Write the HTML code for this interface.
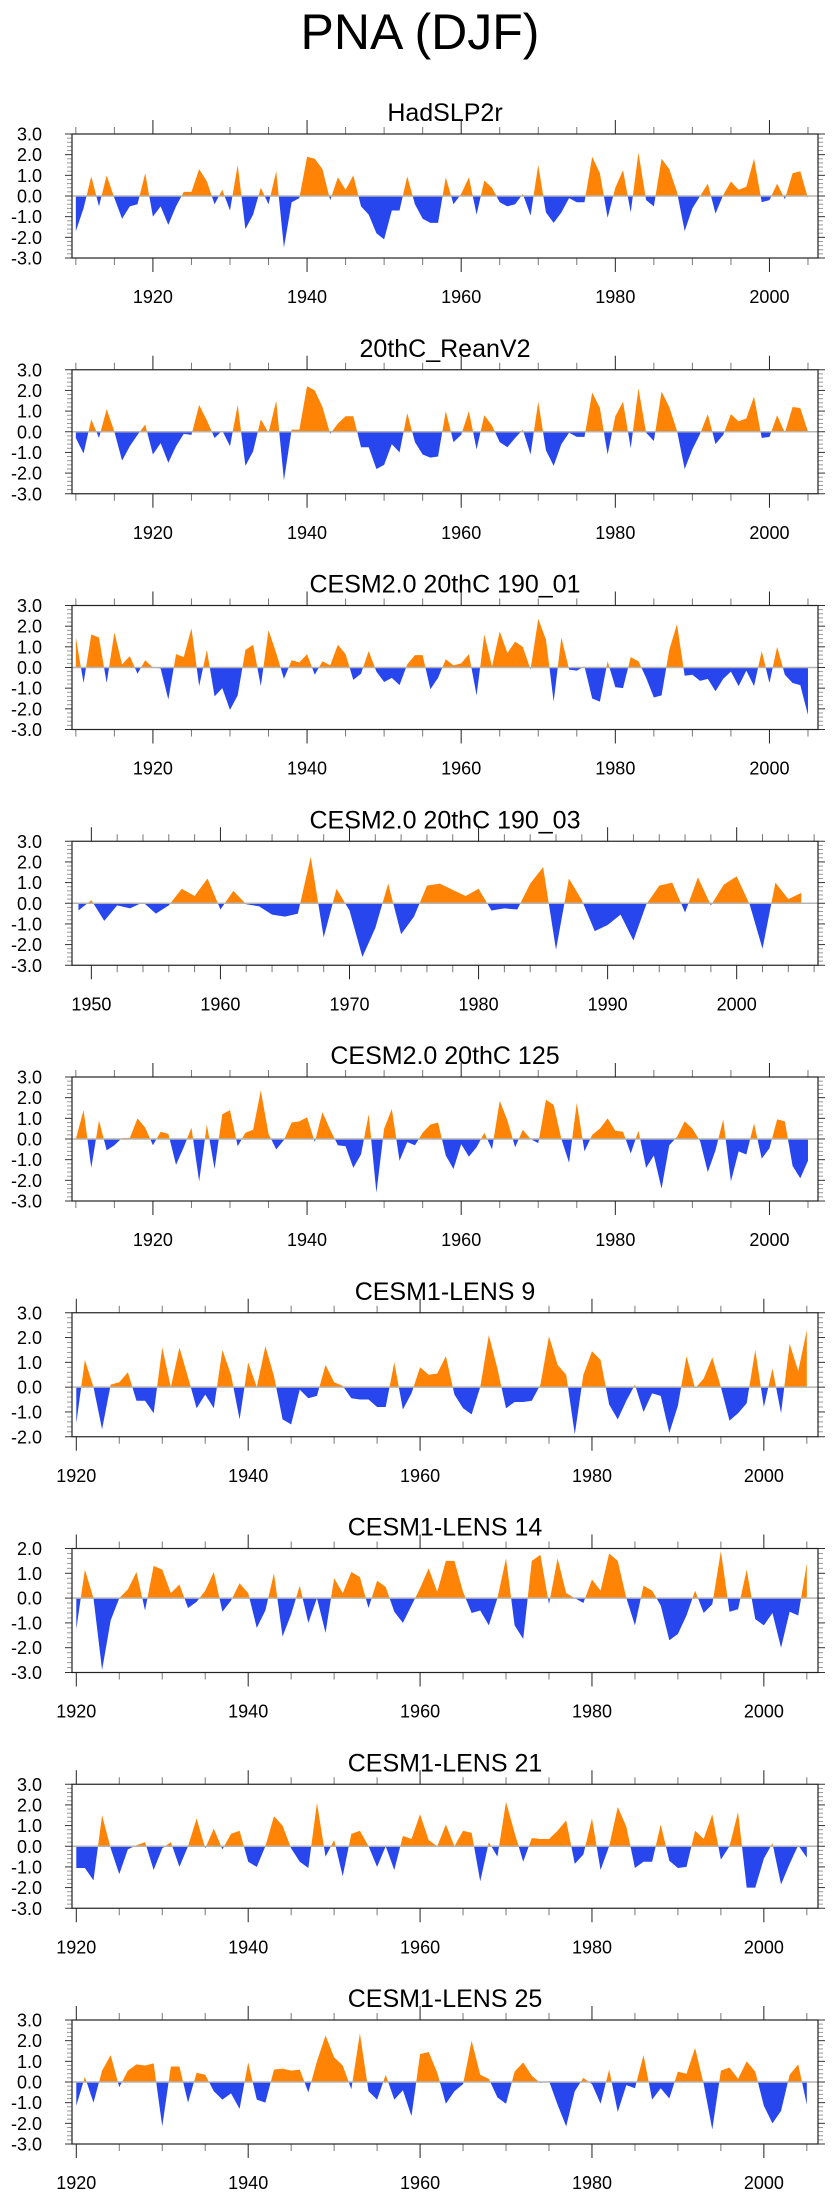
<!DOCTYPE html>
<html><head><meta charset="utf-8"><style>
body{margin:0;background:#fff;}
svg{display:block;font-family:"Liberation Sans",sans-serif;}
</style></head><body>
<svg id="chart" width="840" height="2200" viewBox="0 0 840 2200" xmlns="http://www.w3.org/2000/svg">
<rect width="840" height="2200" fill="#fff"/>
<text x="420" y="49" font-size="50" text-anchor="middle">PNA (DJF)</text>
</svg>
<script>
const titles = ["HadSLP2r","20thC_ReanV2","CESM2.0 20thC 190_01","CESM2.0 20thC 190_03","CESM2.0 20thC 125","CESM1-LENS 9","CESM1-LENS 14","CESM1-LENS 21","CESM1-LENS 25"];
const startYears = [1910,1910,1910,1949,1910,1920,1920,1920,1920];
const yMins = [-3,-3,-3,-3,-3,-2,-3,-3,-3];
const yMaxs = [3,3,3,3,3,3,2,3,3];
const s1 = [-1.7,-0.6,0.95,-0.5,1.0,-0.1,-1.1,-0.5,-0.4,1.1,-1.0,-0.5,-1.4,-0.5,0.2,0.2,1.3,0.7,-0.4,0.3,-0.7,1.5,-1.6,-0.9,0.4,-0.4,1.2,-2.5,-0.3,-0.1,1.9,1.8,1.3,-0.2,0.9,0.3,1.0,-0.5,-0.9,-1.8,-2.1,-0.7,-0.7,0.95,-0.4,-1.1,-1.3,-1.3,0.9,-0.4,0.1,0.9,-0.9,0.75,0.4,-0.3,-0.5,-0.4,0.1,-0.95,1.5,-0.8,-1.3,-0.8,-0.1,-0.3,-0.3,1.9,1.1,-1.05,0.4,1.25,-0.8,2.1,-0.2,-0.5,1.8,1.3,0.2,-1.7,-0.6,0,0.6,-0.85,0.05,0.7,0.3,0.45,1.8,-0.3,-0.2,0.6,-0.15,1.1,1.2,-0.1];
const s2 = [-0.3,-1.05,0.6,-0.3,1.1,0,-1.4,-0.7,-0.15,0.35,-1.1,-0.55,-1.5,-0.7,-0.1,-0.15,1.3,0.55,-0.3,0.05,-0.7,1.3,-1.65,-0.95,0.6,-0.05,1.5,-2.35,0.1,0.1,2.2,2.0,1.2,-0.1,0.4,0.75,0.75,-0.75,-0.75,-1.8,-1.6,-0.6,-1.0,0.9,-0.5,-1.1,-1.25,-1.2,1.0,-0.5,-0.15,1.0,-0.85,0.8,0.3,-0.5,-0.75,-0.3,0.1,-1.1,1.45,-0.9,-1.65,-0.6,-0.05,-0.25,-0.25,1.9,1.15,-1.1,0.75,1.45,-0.8,2.1,-0.05,-0.45,1.95,1.2,0.05,-1.8,-0.85,-0.1,0.85,-0.6,-0.15,0.85,0.5,0.65,1.7,-0.3,-0.25,0.8,-0.05,1.2,1.15,0];
const s3 = [1.45,-0.75,1.6,1.45,-0.75,1.7,0.15,0.55,-0.3,0.35,0,-0.05,-1.55,0.65,0.5,1.9,-0.9,0.85,-1.4,-1.0,-2.05,-1.35,0.85,1.1,-0.9,1.8,0.7,-0.55,0.35,0.25,0.65,-0.35,0.3,0.1,1.1,0.65,-0.6,-0.3,0.8,-0.2,-0.7,-0.5,-0.85,0.15,0.6,0.6,-1.05,-0.5,0.4,0.1,0.2,0.65,-1.35,1.6,0.05,1.75,0.7,1.25,1.0,-0.1,2.35,1.35,-1.65,1.45,-0.1,-0.15,0.05,-1.5,-1.65,0.3,-0.95,-1.0,0.5,0.3,-0.5,-1.45,-1.35,0.85,2.1,-0.4,-0.35,-0.65,-0.55,-1.15,-0.55,-0.2,-0.9,-0.15,-0.9,0.8,-0.75,1.0,-0.35,-0.75,-0.85,-2.3];
const s4 = [-0.35,0.15,-0.85,-0.1,-0.25,0.05,-0.5,-0.1,0.7,0.35,1.2,-0.3,0.6,-0.05,-0.15,-0.55,-0.65,-0.5,2.25,-1.65,0.7,-0.35,-2.6,-1.2,0.95,-1.5,-0.65,0.85,0.95,0.65,0.35,0.7,-0.35,-0.25,-0.3,0.95,1.75,-2.25,1.2,0.15,-1.35,-1.05,-0.55,-1.8,-0.05,0.85,1.0,-0.45,1.25,-0.1,0.9,1.3,-0.05,-2.2,1.0,0.2,0.5];
const s5 = [0,1.4,-1.4,0.9,-0.55,-0.3,0.05,0.05,1.0,0.55,-0.3,0.35,0.25,-1.25,-0.4,0.55,-2.05,0.7,-1.45,1.2,1.4,-0.35,0.3,0.45,2.35,0.25,-0.5,-0.05,0.8,0.85,1.05,-0.15,1.3,0.45,-0.3,-0.35,-1.4,-0.75,1.2,-2.6,0.5,1.45,-1.05,-0.15,-0.3,0.3,0.7,0.8,-0.8,-1.45,-0.25,-0.85,-0.4,0.3,-0.5,1.85,0.9,-0.4,0.45,0,-0.2,1.9,1.65,0,-1.15,1.75,-0.6,0.2,0.5,1.0,0.4,0.35,-0.7,0.4,-1.4,-0.8,-2.4,-0.3,0.1,0.85,0.5,-0.1,-1.6,-0.55,0.95,-2.05,-0.6,-0.75,0.75,-0.95,-0.45,0.95,0.85,-1.3,-1.9,-1.05];
const s6 = [-1.45,1.1,0,-1.7,0.1,0.2,0.6,-0.55,-0.55,-1.05,1.6,0,1.6,0.4,-0.85,-0.3,-0.85,1.5,0.5,-1.3,1.0,0,1.65,0.45,-1.3,-1.5,-0.1,-0.45,-0.35,0.9,0.2,0.05,-0.45,-0.5,-0.5,-0.8,-0.8,1.0,-0.9,-0.25,0.8,0.5,0.55,1.25,-0.3,-0.85,-1.1,0,2.1,0.75,-0.85,-0.6,-0.6,-0.55,0.1,2.05,0.9,0.5,-1.9,0.5,1.45,1.1,-0.7,-1.3,-0.55,0.1,-1.0,-0.25,-0.35,-1.85,-0.75,1.25,-0.05,0.35,1.2,0,-1.35,-1.05,-0.65,1.5,-0.8,0.75,-1.05,1.75,0.65,2.3];
const s7 = [-1.25,1.15,0,-2.9,-0.9,0,0.35,1.05,-0.5,1.3,1.15,0.2,0.55,-0.4,-0.15,0.3,1.05,-0.55,-0.1,0.6,0.2,-1.2,-0.5,1.0,-1.55,-0.65,0.5,-1.0,0,-1.4,0.8,0.2,1.05,0.85,-0.4,0.7,0.45,-0.55,-1.0,-0.3,0.4,1.2,0.25,1.5,1.5,0.25,-0.6,-0.5,-1.1,0,1.6,-1.1,-1.65,1.5,1.75,-0.25,1.6,0.2,0,-0.2,0.75,0.3,1.8,1.5,0,-1.1,0.5,0.3,-0.3,-1.7,-1.45,-0.7,0.3,-0.6,-0.25,1.9,-0.55,-0.45,1.15,-0.85,-1.1,-0.6,-2.0,-0.55,-0.7,1.4];
const s8 = [-1.05,-1.05,-1.65,1.5,-0.1,-1.35,-0.15,0.05,0.2,-1.15,-0.1,0.2,-1.0,0,1.35,-0.1,0.85,-0.15,0.6,0.75,-0.75,-1.0,0,1.45,1.0,-0.1,-0.75,-1.05,2.1,-0.5,0.3,-1.45,0.6,0.75,0,-1.0,0,-1.15,0.5,0.35,1.55,0.3,0,1.05,0,0.75,0.65,-1.7,0.2,-0.5,2.15,0.65,-0.75,0.4,0.35,0.35,0.75,1.25,-0.85,-0.4,1.35,-1.15,0,1.9,0.95,-1.05,-0.75,-0.75,1.05,-0.7,-1.05,-1.0,0.75,0.35,1.55,-0.65,0,1.65,-2.0,-2.0,-0.6,0.15,-1.85,-0.85,0.05,-0.55];
const s9 = [-1.15,0.25,-1.0,0.55,1.3,-0.25,0.55,0.85,0.8,0.9,-2.15,0.75,0.75,-1.0,0.45,0.35,-0.45,-0.85,-0.55,-1.3,0.95,-0.85,-1.0,0.6,0.65,0.55,0.6,-0.5,1.0,2.25,1.2,0.8,-0.35,2.35,-0.45,-0.85,0.35,-0.85,-0.4,-1.65,1.35,1.45,0.45,-1.05,-0.45,-0.1,2.0,0.35,0.15,-0.75,-1.05,0.5,0.95,0.3,-0.05,0.05,-1.1,-2.15,-0.45,0.2,-0.1,-1.05,0.6,-1.45,-0.15,-0.3,1.3,-0.85,-0.3,-0.8,0.5,0.4,1.65,-0.1,-2.3,0.55,0.7,0.15,1.0,0.5,-1.15,-2.0,-1.4,0.35,0.85,-1.1];
const series = [s1,s2,s3,s4,s5,s6,s7,s8,s9];

const NS = "http://www.w3.org/2000/svg";
const svg = document.getElementById('chart');
function mk(tag, attrs, parent){const e=document.createElementNS(NS,tag);for(const k in attrs)e.setAttribute(k,attrs[k]);(parent||svg).appendChild(e);return e;}
const L=72, R=818, H=124, XMAX=2006.3;
for(let p=0;p<9;p++){
  const top=134+235.75*p, bot=top+H;
  const x0=startYears[p]-0.5;
  const xs=y=>L+(y-x0)/(XMAX-x0)*(R-L);
  const ys=v=>top+(yMaxs[p]-v)/(yMaxs[p]-yMins[p])*H;
  const g=mk('g',{});
  
  
  const t=mk('text',{x:445,y:top-13,'font-size':25,'text-anchor':'middle'},g);
  
  
  t.textContent=titles[p];
  const cid='c'+p;
  const defs=mk('defs',{},g);
  const z=ys(0);
  const ca=mk('clipPath',{id:cid+'a'},defs); mk('rect',{x:L,y:top,width:R-L,height:z-top},ca);
  const cb=mk('clipPath',{id:cid+'b'},defs); mk('rect',{x:L,y:z,width:R-L,height:bot-z},cb);
  const d=series[p];
  let pts=xs(startYears[p]).toFixed(2)+','+z.toFixed(2)+' ';
  d.forEach((v,i)=>{pts+=xs(startYears[p]+i).toFixed(2)+','+ys(v).toFixed(2)+' ';});
  pts+=xs(startYears[p]+d.length-1).toFixed(2)+','+z.toFixed(2);
  const pa=mk('polygon',{points:pts,fill:'#ff8405','clip-path':'url(#'+cid+'a)'},g);
  
  
  const pb=mk('polygon',{points:pts,fill:'#2846ee','clip-path':'url(#'+cid+'b)'},g);
  
  
  const zl=mk('line',{x1:L,x2:R,y1:z,y2:z,stroke:'#b4b4b4','stroke-width':1.5},g);
  
  
  // y ticks
  for(let k=Math.round(yMins[p]*5);k<=Math.round(yMaxs[p]*5);k++){
    const v=k/5, yy=ys(v), major=(k%5===0);
    const len=major?7:5, col=major?'#333':'#999';
    mk('line',{x1:L-len,x2:L,y1:yy,y2:yy,stroke:col,'stroke-width':1},g);
    mk('line',{x1:R,x2:R+len,y1:yy,y2:yy,stroke:col,'stroke-width':1},g);
    if(major){
      const lb=mk('text',{x:42,y:yy+6.5,'font-size':18,'text-anchor':'end'},g);
      
      
      lb.textContent=v.toFixed(1);
    }
  }
  // x ticks
  const minorStep=(p===3)?2:5, majorStep=(p===3)?10:20, majorBase=(p===3)?1950:1920;
  for(let yr=Math.ceil(x0/minorStep)*minorStep; yr<=XMAX; yr+=minorStep){
    const xx=xs(yr), major=((yr-majorBase)%majorStep===0);
    const len=major?14:7, col=major?'#222':'#777';
    mk('line',{x1:xx,x2:xx,y1:top-len,y2:top,stroke:col,'stroke-width':1},g);
    mk('line',{x1:xx,x2:xx,y1:bot,y2:bot+len,stroke:col,'stroke-width':1},g);
    if(major){
      const lb=mk('text',{x:xx,y:bot+45,'font-size':18,'text-anchor':'middle'},g);
      
      
      lb.textContent=yr;
    }
  }
  const fr=mk('rect',{x:L,y:top,width:R-L,height:H,fill:'none',stroke:'#222','stroke-width':1.2},g);
  
  
}
</script>
</body></html>
